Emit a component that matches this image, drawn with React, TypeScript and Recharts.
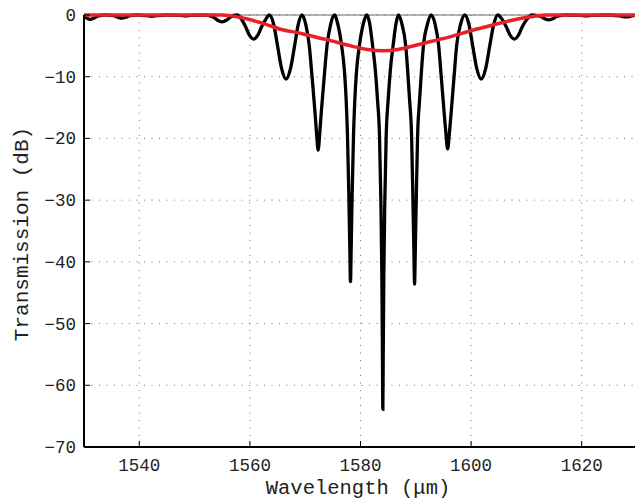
import React from 'react';
import { CartesianGrid, Line, LineChart, ReferenceLine, XAxis, YAxis } from 'recharts';

// black trace: filter response (wavelength nm, transmission dB)
const blackWavelength = [
  1530.0, 1530.5, 1531.09, 1531.8, 1532.6, 1533.9,
  1535.4, 1536.1, 1536.83, 1537.6, 1538.3, 1539.6,
  1541.3, 1542.26, 1543.2, 1545.3,
  1547.5, 1548.4, 1549.3, 1551.9,
  1553.45, 1554.15, 1554.95, 1555.75, 1556.45, 1557.72,
  1558.47, 1559.27, 1559.87, 1560.67, 1561.47, 1562.07, 1562.87, 1563.51,
  1564.3, 1565.0, 1565.74, 1566.54, 1567.34, 1568.08, 1568.75, 1569.4,
  1570.1, 1570.74, 1571.24, 1571.74, 1572.04, 1572.34, 1572.64, 1572.94, 1573.44, 1573.94, 1574.6, 1575.29,
  1575.9, 1576.59, 1577.09, 1577.41, 1577.65, 1577.89, 1578.07, 1578.19, 1578.31, 1578.49, 1578.73, 1578.97, 1579.29, 1579.79, 1580.49, 1581.09,
  1581.64, 1582.19, 1582.69, 1583.08, 1583.44, 1583.68, 1583.86, 1583.97, 1584.04, 1584.11, 1584.22, 1584.4, 1584.64, 1585.0, 1585.39, 1585.89, 1586.44, 1586.88,
  1587.5, 1588.18, 1588.53, 1588.88, 1589.24, 1589.46, 1589.65, 1589.78, 1589.91, 1590.1, 1590.32, 1590.68, 1591.03, 1591.38, 1592.1, 1592.77,
  1593.5, 1594.14, 1594.6, 1595.09, 1595.43, 1595.76, 1596.09, 1596.43, 1596.92, 1597.38, 1598.1, 1598.84,
  1599.6, 1600.29, 1601.03, 1601.83, 1602.63, 1603.37, 1604.1, 1604.82,
  1605.6, 1606.4, 1607.01, 1607.81, 1608.61, 1609.21, 1610.1, 1610.98,
  1612.6, 1613.3, 1614.06, 1614.8, 1615.5, 1617.2,
  1619.8, 1620.8, 1621.8, 1624.2,
  1626.9, 1627.4, 1628.0, 1628.6, 1629.1, 1630.0,
];
const blackDb = [
  -0.2, -0.5, -0.7, -0.5, -0.15, 0,
  -0.1, -0.35, -0.5, -0.35, -0.1, 0,
  -0.1, -0.2, -0.1, 0,
  -0.06, -0.12, -0.06, 0,
  -0.35, -0.85, -1.1, -0.85, -0.35, 0,
  -0.7, -2.0, -3.2, -3.9, -3.2, -2.0, -0.7, 0,
  -1.5, -5.0, -8.7, -10.4, -8.7, -5.0, -1.5, 0,
  -1.5, -5.0, -10.0, -15.4, -19.0, -21.9, -19.0, -15.4, -10.0, -5.0, -1.5, 0,
  -1.5, -5.0, -9.0, -13.8, -19.7, -29.0, -38.0, -43.2, -38.0, -29.0, -19.7, -13.8, -9.0, -5.0, -1.5, 0,
  -1.3, -5.0, -9.0, -13.8, -19.7, -30.0, -42.0, -55.0, -63.9, -55.0, -42.0, -30.0, -19.7, -13.8, -9.0, -5.0, -1.3, 0,
  -1.5, -5.0, -9.0, -13.8, -19.7, -29.0, -38.0, -43.6, -38.0, -29.0, -19.7, -13.8, -9.0, -5.0, -1.5, 0,
  -1.5, -5.0, -10.0, -15.4, -19.0, -21.7, -19.0, -15.4, -10.0, -5.0, -1.5, 0,
  -1.5, -5.0, -8.7, -10.4, -8.7, -5.0, -1.5, 0,
  -0.7, -2.0, -3.2, -3.9, -3.2, -2.0, -0.7, 0,
  -0.25, -0.6, -0.8, -0.6, -0.25, 0,
  -0.05, -0.12, -0.05, 0,
  -0.15, -0.25, -0.3, -0.25, -0.15, 0,
];

// red trace: envelope
const redWavelength = [
  1530, 1550, 1555, 1556.4, 1558.5, 1560.6, 1563, 1565.5, 1569.1, 1572, 1574.6, 1578.2,
  1581.3, 1584.2, 1586.7, 1589.1, 1592.7, 1596.3, 1599.9, 1603.6, 1607.2, 1610.8, 1613.5, 1615, 1630,
];
const redDb = [
  0, 0, 0, -0.1, -0.45, -0.9, -1.55, -2.3, -2.95, -3.6, -4.15, -5.0,
  -5.6, -5.8, -5.6, -5.1, -4.3, -3.5, -2.55, -1.7, -0.9, -0.3, -0.02, 0, 0,
];

const xTicks = [1540, 1560, 1580, 1600, 1620];
const yTicks = [-70, -60, -50, -40, -30, -20, -10, 0];

const blackData = blackWavelength.map((x, i) => ({ x, y: blackDb[i] }));
const redData = redWavelength.map((x, i) => ({ x, y: redDb[i] }));

const FONT = '"Liberation Mono", "Courier New", monospace';

const XTick = (props: any) => {
  const { x, y, payload } = props;
  return (
    <g>
      <line x1={x} y1={y} x2={x} y2={y - 6} stroke="#000" strokeWidth={1} />
      <text x={x} y={y + 24} textAnchor="middle" fontFamily={FONT} fontSize={17.5} fill="#222">
        {payload.value}
      </text>
    </g>
  );
};

const YTick = (props: any) => {
  const { x, y, payload } = props;
  return (
    <g>
      <line x1={x} y1={y} x2={x + 6} y2={y} stroke="#000" strokeWidth={1} />
      <text x={x - 8} y={y + 6} textAnchor="end" fontFamily={FONT} fontSize={17.5} fill="#222">
        {payload.value === 0 ? '0' : `\u2212${Math.abs(payload.value)}`}
      </text>
    </g>
  );
};

export default function App() {
  return (
    <div
      style={{
        position: 'fixed',
        left: 0,
        top: 0,
        width: 635,
        height: 498,
        overflow: 'hidden',
        background: '#fff',
      }}
    >
      <LineChart width={640} height={498} margin={{ top: 15, right: 3, bottom: 0, left: 0 }}>
        <CartesianGrid stroke="#777" strokeDasharray="1 6.5" />
        <XAxis
          dataKey="x"
          type="number"
          domain={[1530, 1630]}
          ticks={xTicks}
          height={51}
          tickSize={0}
          tickMargin={0}
          tickLine={false}
          tick={<XTick />}
          axisLine={{ stroke: '#000', strokeWidth: 2 }}
          label={{
            content: () => (
              <text
                x={358}
                y={493.5}
                textAnchor="middle"
                fontFamily={FONT}
                fontSize={20.5}
                fill="#222"
              >
                Wavelength (μm)
              </text>
            ),
          }}
        />
        <YAxis
          dataKey="y"
          type="number"
          domain={[-70, 0]}
          ticks={yTicks}
          width={84}
          tickSize={0}
          tickMargin={0}
          tickLine={false}
          tick={<YTick />}
          axisLine={{ stroke: '#000', strokeWidth: 2 }}
          label={{
            content: () => (
              <text
                x={28}
                y={234}
                transform="rotate(-90 28 234)"
                textAnchor="middle"
                fontFamily={FONT}
                fontSize={21}
                fill="#222"
              >
                Transmission (dB)
              </text>
            ),
          }}
        />
        <ReferenceLine y={0} stroke="#666" strokeWidth={1} />
        <Line
          data={blackData}
          dataKey="y"
          type="monotone"
          stroke="#000"
          strokeWidth={3.3}
          dot={false}
          isAnimationActive={false}
        />
        <Line
          data={redData}
          dataKey="y"
          type="monotone"
          stroke="#e8202a"
          strokeWidth={3.5}
          dot={false}
          isAnimationActive={false}
        />
      </LineChart>
    </div>
  );
}
